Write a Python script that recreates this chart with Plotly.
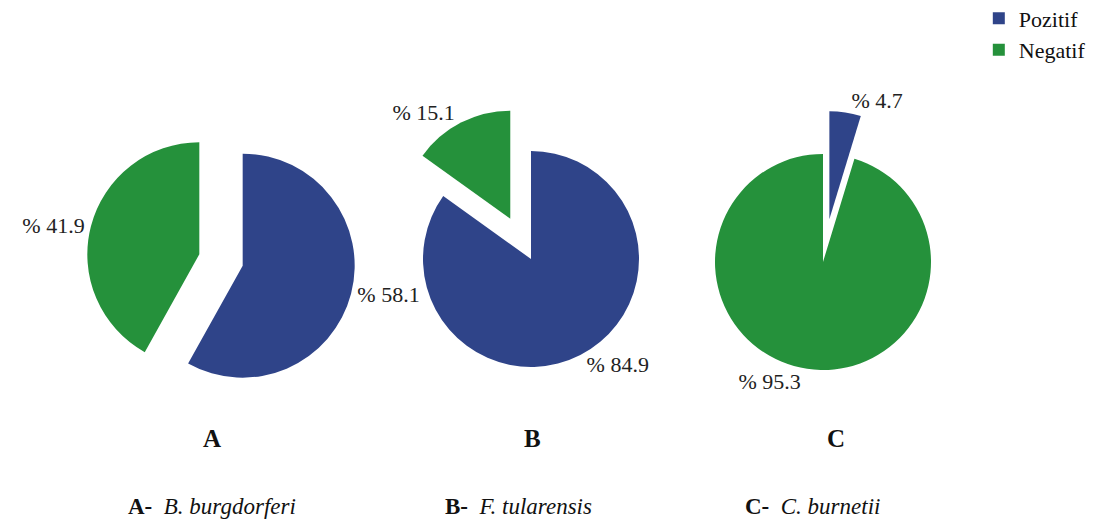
import plotly.graph_objects as go

categories = ["Pozitif", "Negatif"]
panels = ["A", "B", "C"]
species = ["B. burgdorferi", "F. tularensis", "C. burnetii"]
values_A = [58.1, 41.9]
values_B = [84.9, 15.1]
values_C = [4.7, 95.3]
pulls_A = [0.2, 0.2]
pulls_B = [0.0, 0.42]
pulls_C = [0.4, 0.0]

W, H = 1106, 525
colors = ["#2F4489", "#25913B"]
serif = "Liberation Serif"

# pie geometry in pixels (center x, center y from top, radius)
geom = [(221, 260, 112), (531, 259, 108), (823, 262, 108)]

fig = go.Figure()
for i, (vals, pulls) in enumerate([(values_A, pulls_A), (values_B, pulls_B), (values_C, pulls_C)]):
    cx, cy, r = geom[i]
    half = r * (1 + max(pulls))
    fig.add_trace(go.Pie(
        labels=categories,
        values=vals,
        pull=pulls,
        sort=False,
        direction="clockwise",
        rotation=0,
        marker=dict(colors=colors, line=dict(width=0)),
        text=[f"% {v}" for v in vals],
        textinfo="text",
        textposition="outside",
        outsidetextfont=dict(family=serif, size=22, color="#222222"),
        showlegend=(i == 0),
        hoverinfo="label+value",
        domain=dict(x=[(cx - half) / W, (cx + half) / W],
                    y=[1 - (cy + half) / H, 1 - (cy - half) / H]),
    ))

letter_x = [212, 532, 836]
caption_x = [212, 518, 812]
for i in range(3):
    fig.add_annotation(x=letter_x[i] / W, y=1 - 438 / H, xref="paper", yref="paper",
                       xanchor="center", yanchor="middle",
                       text=f"<b>{panels[i]}</b>", showarrow=False,
                       font=dict(family=serif, size=25, color="#111111"))
    fig.add_annotation(x=caption_x[i] / W, y=1 - 506 / H, xref="paper", yref="paper",
                       xanchor="center", yanchor="middle",
                       text=f"<b>{panels[i]}-</b>\u00a0\u00a0<i>{species[i]}</i>", showarrow=False,
                       font=dict(family=serif, size=23, color="#111111"))

fig.update_layout(
    width=W, height=H,
    margin=dict(l=0, r=0, t=0, b=0, autoexpand=False),
    paper_bgcolor="white", plot_bgcolor="white",
    legend=dict(x=0.885, y=1.005, xanchor="left", yanchor="top",
                font=dict(family=serif, size=22, color="#111111"),
                itemsizing="constant", tracegroupgap=0),
)

fig.write_html("out.html")
